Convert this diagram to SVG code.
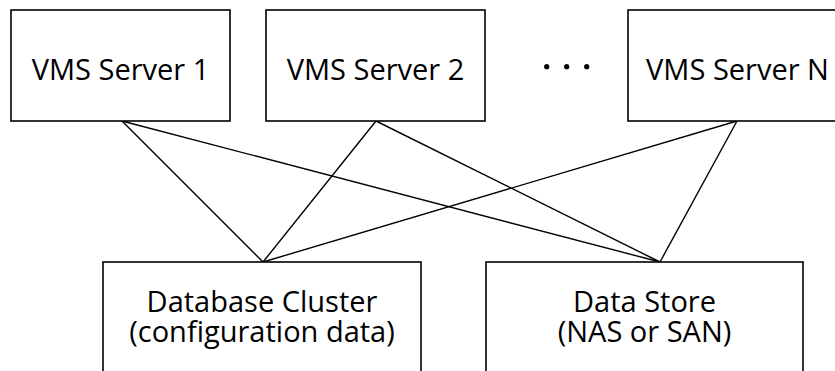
<svg xmlns="http://www.w3.org/2000/svg" width="835" height="371" viewBox="0 0 835 371">
  <style>
    .box { fill: #ffffff; stroke: #000000; stroke-width: 1.6; }
    .lbl { font-family: "Open Sans", "Liberation Sans", sans-serif; font-size: 29px; fill: #000000; text-anchor: middle; }
    .link { stroke: #000000; stroke-width: 1.4; fill: none; }
    .dot { fill: #000000; }
  </style>
  <rect width="835" height="371" fill="#ffffff"/>

  <!-- connections between servers and shared storage -->
  <g id="connectors">
    <line class="link" x1="122" y1="121" x2="263" y2="262"/>
    <line class="link" x1="122" y1="121" x2="660" y2="262"/>
    <line class="link" x1="376" y1="121" x2="263" y2="262"/>
    <line class="link" x1="376" y1="121" x2="660" y2="262"/>
    <line class="link" x1="737" y1="121" x2="263" y2="262"/>
    <line class="link" x1="737" y1="121" x2="660" y2="262"/>
  </g>

  <g id="server1">
    <rect class="box" x="11" y="10" width="219" height="111"/>
    <text class="lbl" x="120.5" y="80">VMS Server 1</text>
  </g>

  <g id="server2">
    <rect class="box" x="266" y="10" width="219" height="111"/>
    <text class="lbl" x="375.5" y="80">VMS Server 2</text>
  </g>

  <g id="ellipsis">
    <circle class="dot" cx="546.7" cy="66.7" r="2.6"/>
    <circle class="dot" cx="566.7" cy="66.7" r="2.6"/>
    <circle class="dot" cx="586.7" cy="66.7" r="2.6"/>
  </g>

  <g id="serverN">
    <rect class="box" x="628" y="10" width="219" height="111"/>
    <text class="lbl" x="737.5" y="80">VMS Server N</text>
  </g>

  <g id="database">
    <rect class="box" x="103" y="262" width="318" height="130"/>
    <text class="lbl" x="262" y="312">Database Cluster<tspan x="262" dy="30">(configuration data)</tspan></text>
  </g>

  <g id="datastore">
    <rect class="box" x="486" y="262" width="317" height="130"/>
    <text class="lbl" x="644.5" y="312">Data Store<tspan x="644.5" dy="30">(NAS or SAN)</tspan></text>
  </g>
</svg>
